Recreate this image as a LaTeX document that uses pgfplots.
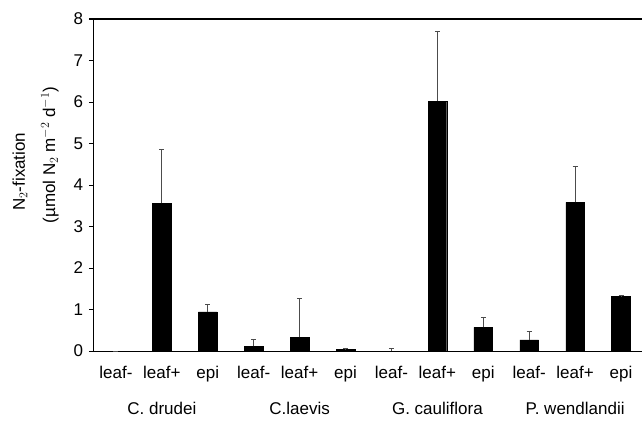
\documentclass[border=0pt]{standalone}
\usepackage{pgfplots}
\pgfplotsset{compat=1.18}
\usepackage{pgfplotstable}
\usepackage{fontspec}
\setmainfont{Liberation Sans}
\pgfplotstableread{
x y e
0 0 0
1 3.56 1.29
2 0.94 0.19
3 0.11 0.16
4 0.33 0.93
5 0.04 0.02
6 0 0.07
7 6.02 1.68
8 0.57 0.23
9 0.27 0.20
10 3.58 0.86
11 1.32 0.01
}\datatable
\begin{document}
\fontsize{17}{20}\selectfont
\begin{tikzpicture}
\begin{axis}[
  name=ax, anchor=south west, at={(0,0)},
  scale only axis, width=551pt, height=332pt,
  xmin=-0.5, xmax=11.5, ymin=0, ymax=8,
  axis lines*=left,
  axis line style={line width=0.8pt},
  ytick={0,1,...,8},
  xtick=data,
  xticklabels={leaf-,leaf+,epi,leaf-,leaf+,epi,leaf-,leaf+,epi,leaf-,leaf+,epi},
  x tick label style={yshift=-5pt},
  major x tick style={draw=none},
  ytick pos=left, tick align=outside,
  major tick length=4pt,
  tick style={line width=0.8pt, black},
  /pgf/number format/assume math mode=true,
  tick label style={font=\fontsize{17}{20}\selectfont},
  clip=false,
]
\addplot[ybar, bar width=18.7pt, fill=black, draw=black,
  error bars/.cd, y dir=plus, y explicit,
  error bar style={line width=0.8pt, black!70},
  error mark options={rotate=90, mark size=2.5pt, line width=0.8pt, black!70}]
  table[x=x, y=y, y error=e] {\datatable};
\draw[line width=1.3pt] ([xshift=-4pt]rel axis cs:0,1) -- (rel axis cs:1,1);
\node[font=\fontsize{17}{20}\selectfont] at ([yshift=-57pt]axis cs:1,0) {C. drudei};
\node[font=\fontsize{17}{20}\selectfont] at ([yshift=-57pt]axis cs:4,0) {C.laevis};
\node[font=\fontsize{17}{20}\selectfont] at ([yshift=-57pt]axis cs:7,0) {G. cauliflora};
\node[font=\fontsize{17}{20}\selectfont] at ([yshift=-57pt]axis cs:10,0) {P. wendlandii};
\node[rotate=90, font=\fontsize{17}{20}\selectfont] at ([xshift=-73pt]rel axis cs:0,0.54) {N$_2$-fixation};
\node[rotate=90, font=\fontsize{17}{20}\selectfont] at ([xshift=-43pt]rel axis cs:0,0.59) {(µmol N$_2$ m$^{-2}$ d$^{-1}$)};
\end{axis}
\pgfresetboundingbox
\path[use as bounding box] (-93pt,-69pt) rectangle (549pt,351pt);
\end{tikzpicture}
\end{document}
